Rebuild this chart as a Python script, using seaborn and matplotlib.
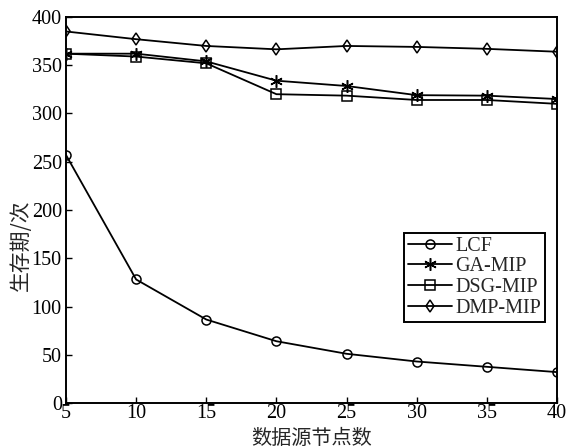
import matplotlib
matplotlib.use("Agg")
import matplotlib.pyplot as plt
import seaborn as sns
import pandas as pd

x_nodes = [5, 10, 15, 20, 25, 30, 35, 40]
lcf = [257, 128, 86.5, 64, 51, 43, 37.5, 32]
ga_mip = [362, 362, 354, 334, 328.5, 319, 318.5, 315]
dsg_mip = [362, 359, 352, 320, 318.5, 314, 314, 310]
dmp_mip = [385, 377, 370, 366.5, 370, 369, 367, 364]
series_names = ["LCF", "GA-MIP", "DSG-MIP", "DMP-MIP"]
markers = ["o", (6, 2, 0), "s", "d"]

sns.set_theme(style="white")
plt.rcParams["font.family"] = ["Liberation Serif", "Noto Sans CJK SC"]

df = pd.DataFrame({
    "x": x_nodes * 4,
    "y": lcf + ga_mip + dsg_mip + dmp_mip,
    "series": sum([[n] * len(x_nodes) for n in series_names], []),
})

fig = plt.figure(figsize=(5.69, 4.48), dpi=100)
ax = fig.add_axes([66 / 569, 45 / 448, 491 / 569, 386 / 448])

for name, mk in zip(series_names, markers):
    sub = df[df["series"] == name]
    ms = 9 if name == "GA-MIP" else 6.5
    sns.lineplot(data=sub, x="x", y="y", ax=ax, color="black", lw=1.3,
                 marker=mk, markersize=ms, markerfacecolor="none",
                 markeredgecolor="black", markeredgewidth=1.1, label=name)

ax.set_xlim(5, 40)
ax.set_ylim(0, 400)
ax.set_xticks(x_nodes)
ax.set_yticks(range(0, 401, 50))
ax.tick_params(direction="in", length=4, width=1, labelsize=14.5, colors="black",
               top=False, right=False, left=True, bottom=True)
ax.tick_params(axis="y", pad=3)
ax.tick_params(axis="x", pad=1)
for sp in ax.spines.values():
    sp.set_color("black")
    sp.set_linewidth(1.4)

ax.set_xlabel("数据源节点数", fontsize=14.5, family=["Noto Sans CJK SC"])
ax.xaxis.set_label_coords(0.5, -0.064)
ax.set_ylabel("生存期/次", fontsize=15, family=["Noto Sans CJK SC"])
ax.yaxis.set_label_coords(-0.07, 0.41)

leg = ax.legend(loc="lower right", bbox_to_anchor=(0.9756, 0.21), fontsize=14.5,
                frameon=True, fancybox=False, edgecolor="black", framealpha=1,
                borderpad=0.2, labelspacing=0.08, handlelength=2.2, handletextpad=0.15,
                borderaxespad=0)
leg.get_frame().set_linewidth(1.4)

fig.savefig("out.png", dpi=100)
